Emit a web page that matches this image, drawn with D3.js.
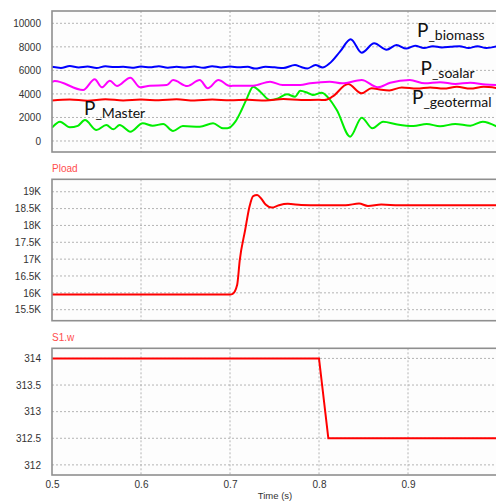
<!DOCTYPE html>
<html><head><meta charset="utf-8">
<script src="https://cdn.jsdelivr.net/npm/d3@7"></script>
<style>
body{margin:0;background:#fff;}
svg{display:block;}
</style></head>
<body>
<svg id="c" width="496" height="502"></svg>
<script>
// ---- data ----
const xTicks = [0.5, 0.6, 0.7, 0.8, 0.9];
const p1Ticks = [0, 2000, 4000, 6000, 8000, 10000];
const p2Ticks = [15500, 16000, 16500, 17000, 17500, 18000, 18500, 19000];
const p2TickLabels = ["15.5K","16K","16.5K","17K","17.5K","18K","18.5K","19K"];
const p3Ticks = [312, 312.5, 313, 313.5, 314];

const biomassT = [0.500,0.510,0.520,0.530,0.540,0.550,0.560,0.570,0.580,0.590,0.600,0.610,0.620,0.630,0.640,0.650,0.660,0.670,0.680,0.690,0.700,0.710,0.720,0.728,0.740,0.750,0.760,0.773,0.780,0.787,0.796,0.804,0.812,0.8236,0.8356,0.848,0.862,0.876,0.887,0.898,0.908,0.918,0.928,0.938,0.948,0.958,0.968,0.978,0.988,1.000];
const biomassV = [6300,6200,6380,6250,6330,6200,6350,6280,6300,6220,6320,6260,6350,6230,6300,6250,6330,6220,6360,6250,6330,6260,6300,6150,6300,6260,6200,6450,6280,6170,6450,6250,6600,7590,8640,7500,8300,7750,8150,7850,8100,7900,8050,7950,8000,8050,7900,8050,7900,8050];

const solarT = [0.500,0.503,0.535,0.548,0.556,0.565,0.573,0.588,0.599,0.610,0.629,0.636,0.652,0.666,0.675,0.687,0.700,0.706,0.726,0.745,0.759,0.779,0.790,0.812,0.826,0.848,0.866,0.880,0.902,0.919,0.936,0.953,0.970,0.987,1.000];
const solarV = [5000,5100,4330,5240,4560,5120,4670,5380,4560,4700,4750,5180,4670,5180,4480,5180,4670,4700,4700,5040,4760,4760,4900,5040,4900,5180,4560,4950,5180,4900,5000,4850,4950,4800,4750];

const geoT = [0.500,0.520,0.540,0.560,0.580,0.600,0.620,0.640,0.660,0.680,0.700,0.720,0.740,0.760,0.780,0.800,0.806,0.815,0.8326,0.848,0.859,0.870,0.879,0.893,0.910,0.925,0.940,0.955,0.970,0.985,1.000];
const geoV = [3450,3530,3430,3540,3450,3520,3460,3540,3440,3520,3460,3500,3440,3560,3480,3500,3480,3760,4840,4050,4480,4350,4300,4550,4450,4550,4450,4600,4450,4600,4500];

const masterT = [0.500,0.509,0.520,0.529,0.537,0.550,0.561,0.569,0.576,0.588,0.602,0.613,0.625,0.636,0.647,0.666,0.681,0.692,0.697,0.706,0.713,0.719,0.726,0.734,0.745,0.754,0.764,0.773,0.779,0.787,0.793,0.803,0.810,0.820,0.835,0.848,0.860,0.872,0.888,0.906,0.921,0.936,0.953,0.970,0.984,1.000];
const masterV = [1130,1640,1160,1290,1780,930,1360,990,1360,790,1500,1300,1440,850,1270,1210,1500,1080,1080,1640,2630,3620,4610,4190,3480,3620,3970,3760,4270,4100,3910,4100,3710,2630,370,1980,1080,1640,1400,1270,1450,1250,1450,1300,1640,1220];

const ploadT = [0.500,0.700,0.703,0.708,0.711,0.717,0.722,0.726,0.7305,0.735,0.740,0.747,0.755,0.765,0.780,0.800,0.830,0.845,0.855,0.870,0.890,0.900,1.000];
const ploadV = [15950,15950,15970,16230,16980,17860,18570,18870,18900,18800,18620,18530,18600,18640,18610,18600,18600,18650,18580,18620,18600,18600,18600];

const s1wT = [0.500,0.800,0.8105,1.000];
const s1wV = [314,314,312.5,312.5];

// ---- layout ----
const svg = d3.select("#c");
const X0 = 52, X1 = 497;
const x = d3.scaleLinear().domain([0.5, 1.0]).range([X0, X1]);

const panels = [
  {top:11, bottom:152, domain:[-935, 11045], ticks:p1Ticks, fmt:d=>String(d)},
  {top:179.3, bottom:320.7, domain:[15173, 19369], ticks:p2Ticks, fmt:(d,i)=>p2TickLabels[i], title:"Pload"},
  {top:348.3, bottom:475, domain:[311.81, 314.19], ticks:p3Ticks, fmt:d=>String(d), title:"S1.w"}
];

const FONT = "'Liberation Sans', Arial, sans-serif";

panels.forEach((p, pi) => {
  p.y = d3.scaleLinear().domain(p.domain).range([p.bottom, p.top]);
  const g = svg.append("g");
  g.append("rect").attr("x", X0).attr("y", p.top).attr("width", X1 - X0).attr("height", p.bottom - p.top)
    .attr("fill", "#fdfdfd");
  g.selectAll("line.h").data(p.ticks).enter().append("line")
    .attr("x1", X0).attr("x2", X1)
    .attr("y1", d => p.y(d)).attr("y2", d => p.y(d))
    .attr("stroke", "#b4b4b4").attr("stroke-width", 1).attr("stroke-dasharray", "2,2");
  g.selectAll("line.v").data(xTicks.slice(1)).enter().append("line")
    .attr("x1", d => x(d)).attr("x2", d => x(d))
    .attr("y1", p.top).attr("y2", p.bottom)
    .attr("stroke", "#b4b4b4").attr("stroke-width", 1).attr("stroke-dasharray", "2,2");
  const ax = d3.axisLeft(p.y).tickValues(p.ticks).tickFormat(p.fmt).tickSize(0).tickPadding(11);
  const ag = g.append("g").attr("transform", `translate(${X0},0)`).call(ax);
  ag.select(".domain").remove();
  ag.selectAll("text").attr("font-family", FONT).attr("font-size", 10).attr("fill", "#333");
  if (p.title) {
    g.append("text").attr("x", X0).attr("y", p.top - 7).text(p.title)
      .attr("font-family", FONT).attr("font-size", 10).attr("fill", "#ff4d4d");
  }
  svg.append("clipPath").attr("id", "clip" + pi).append("rect")
    .attr("x", X0).attr("y", p.top).attr("width", X1 - X0).attr("height", p.bottom - p.top);
});

function drawLine(pi, T, V, color, curve) {
  const p = panels[pi];
  const data = T.map((t, i) => [t, V[i]]);
  const line = d3.line().x(d => x(d[0])).y(d => p.y(d[1])).curve(curve || d3.curveMonotoneX);
  svg.append("path").datum(data).attr("d", line)
    .attr("fill", "none").attr("stroke", color).attr("stroke-width", 2)
    .attr("clip-path", `url(#clip${pi})`);
}

drawLine(0, masterT, masterV, "#00ee00");
drawLine(0, geoT, geoV, "#ff0000");
drawLine(0, solarT, solarV, "#ff00ff");
drawLine(0, biomassT, biomassV, "#0000ff");
drawLine(1, ploadT, ploadV, "#ff0000");
drawLine(2, s1wT, s1wV, "#ff0000", d3.curveLinear);

panels.forEach(p => {
  svg.append("rect").attr("x", X0).attr("y", p.top).attr("width", X1 - X0 + 2).attr("height", p.bottom - p.top)
    .attr("fill", "none").attr("stroke", "#8f8f8f").attr("stroke-width", 1.6);
});

const xa = d3.axisBottom(x).tickValues(xTicks).tickFormat(d3.format(".1f")).tickSize(0).tickPadding(6);
const xg = svg.append("g").attr("transform", `translate(0,${panels[2].bottom})`).call(xa);
xg.select(".domain").remove();
xg.selectAll("text").attr("font-family", FONT).attr("font-size", 10).attr("fill", "#333");
svg.append("text").attr("x", 275).attr("y", 499).attr("text-anchor", "middle")
  .attr("font-family", FONT).attr("font-size", 9.5).attr("fill", "#333").text("Time (s)");

const ANN = "Lato, 'Open Sans', sans-serif";
const anns = [
  {x:417, y:36.5, sub:"_biomass"},
  {x:420.5, y:75, sub:"_soalar"},
  {x:412, y:104.3, sub:"_geotermal"},
  {x:84, y:115, sub:"_Master"}
];
anns.forEach(a => {
  const t = svg.append("text").attr("x", a.x).attr("y", a.y).attr("font-family", ANN).attr("fill", "#111");
  t.append("tspan").attr("font-size", 19).text("P");
  t.append("tspan").attr("font-size", 14).attr("dy", 3).text(a.sub);
});
</script>
</body></html>
